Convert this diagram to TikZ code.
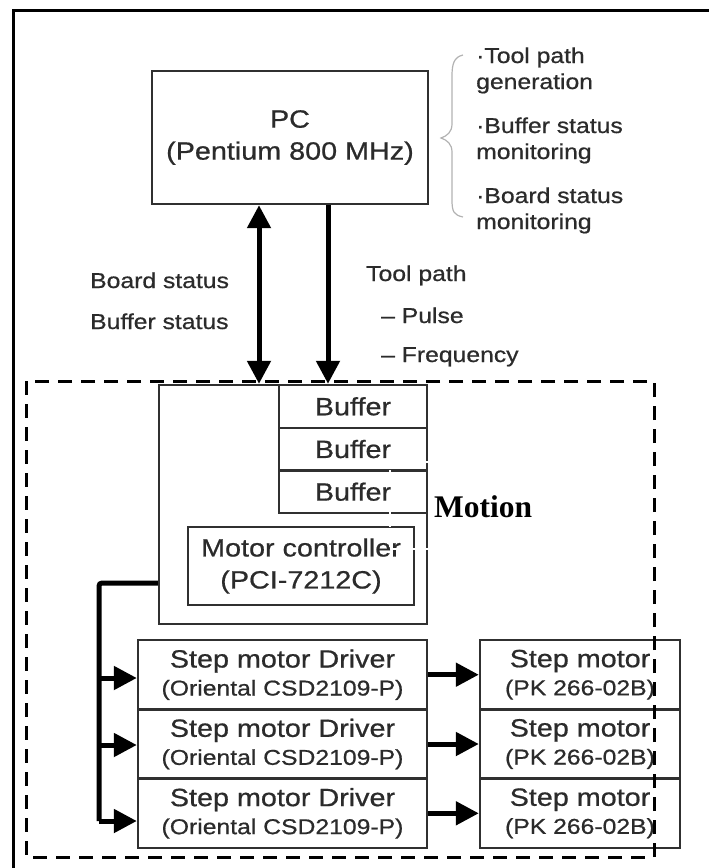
\documentclass[tikz,border=0pt]{standalone}
\usepackage{fontspec}
\usetikzlibrary{arrows.meta}
\newfontfamily\gf[FakeStretch=1.15,FakeBold=0.7]{Liberation Sans}
\newfontfamily\tf{Liberation Serif}
\definecolor{ink}{HTML}{2B2B2B}
\definecolor{edge}{HTML}{303030}
\newcommand{\bigf}{\gf\fontsize{25}{32}\selectfont}
\newcommand{\smallf}{\gf\fontsize{21.5}{27}\selectfont}
\tikzset{
  box/.style={draw=edge, line width=2.4pt, rectangle, inner sep=0pt, text=ink, align=center, font=\bigf},
  lbl/.style={text=ink, inner sep=0pt, font=\smallf},
  flow/.style={line width=5pt, draw=black, -{Triangle[length=23pt,width=23pt]}},
  flow2/.style={line width=5pt, draw=black, {Triangle[length=23pt,width=23pt]}-{Triangle[length=23pt,width=23pt]}},
}
\begin{document}
\begin{tikzpicture}[x=1pt,y=-1pt]
\useasboundingbox (0,0) rectangle (709,868);
% outer frame (top and left)
\draw[line width=3pt] (13,868) -- (13,10) -- (709,10);

% PC
\node[box, minimum width=276pt, minimum height=133pt] (pc) at (290,137.5)
  {PC\\(Pentium 800 MHz)};
% brace
\draw[gray!60, line width=1.2pt] (463,55) .. controls (454,57) and (452,64) .. (452,76)
  -- (452,124) .. controls (452,132) and (447,136) .. (441,138)
  .. controls (447,140) and (452,144) .. (452,152)
  -- (452,200) .. controls (452,212) and (454,215) .. (463,217);
% right list
\node[lbl, anchor=base west] (t1) at (476,63) {·Tool path};
\node[lbl, anchor=base west] (t2) at (476,89) {generation};
\node[lbl, anchor=base west] (t3) at (476,133) {·Buffer status};
\node[lbl, anchor=base west] (t4) at (476,159) {monitoring};
\node[lbl, anchor=base west] (t5) at (476,203) {·Board status};
\node[lbl, anchor=base west] (t6) at (476,229) {monitoring};

% labels between
\node[lbl, anchor=base west] (bs) at (90,288) {Board status};
\node[lbl, anchor=base west] (bf) at (90,329) {Buffer status};
\node[lbl, anchor=base west] (tp) at (366,281) {Tool path};
\node[lbl, anchor=base west] (pu) at (381,323) {– Pulse};
\node[lbl, anchor=base west] (fr) at (381,362) {– Frequency};

% controller
\node[box, minimum width=268pt, minimum height=239pt] (ctrl) at (293,504.5) {};
\node[box, minimum width=148pt, minimum height=42.7pt] (b1) at (353,406.35) {Buffer};
\node[box, minimum width=148pt, minimum height=42.7pt] (b2) at (353,449.05) {Buffer};
\node[box, minimum width=148pt, minimum height=42.7pt] (b3) at (353,491.7) {Buffer};
\node[box, minimum width=226pt, minimum height=78pt] (mc) at (301,566)
  {Motor controller\\(PCI-7212C)};

% PC <-> controller arrows
\coordinate (xa) at (259,0);
\coordinate (xb) at (328,0);
\draw[flow2] (xa |- pc.south) -- (xa |- ctrl.north);
\draw[flow] (xb |- pc.south) -- (xb |- ctrl.north);

% drivers and motors
\foreach \i/\y in {1/674.7,2/744,3/813.3}{
  \node[box, minimum width=289pt, minimum height=69.3pt] (d\i) at (282.5,\y)
    {\raisebox{-3pt}{Step motor Driver}\\[-4pt]{\smallf\raisebox{-3pt}{(Oriental CSD2109-P)}}};
  \node[box, minimum width=200pt, minimum height=69.3pt] (m\i) at (580,\y)
    {\raisebox{-3pt}{Step motor}\\[-4pt]{\smallf\raisebox{-3pt}{(PK 266-02B)}}};
  \draw[flow] (d\i.east) -- (m\i.west);
}

% bus
\coordinate (bus) at (99,583);
\coordinate (e1) at (99,678);
\coordinate (e2) at (99,745);
\coordinate (e3) at (99,821);
\draw[line width=5pt, rounded corners=3pt] (ctrl.west |- bus) -- (bus) -- (e3);
\draw[flow] (e1) -- (d1.west |- e1);
\draw[flow] (e2) -- (d2.west |- e2);
\draw[flow] (e3) -- (d3.west |- e3);

% Motion label
\node[inner sep=0pt, anchor=base west, font=\tf\bfseries\fontsize{31.5}{36}\selectfont] (mo) at (434,517) {Motion};
% white text-frame traces
\draw[white, line width=1.3pt, dash pattern=on 7pt off 3pt] (432,462) -- (390,462) -- (390,549) -- (432,549);

% dashed region
\draw[line width=3pt, dash pattern=on 14pt off 9pt] (26,381) rectangle (654,857);
\end{tikzpicture}
\end{document}
